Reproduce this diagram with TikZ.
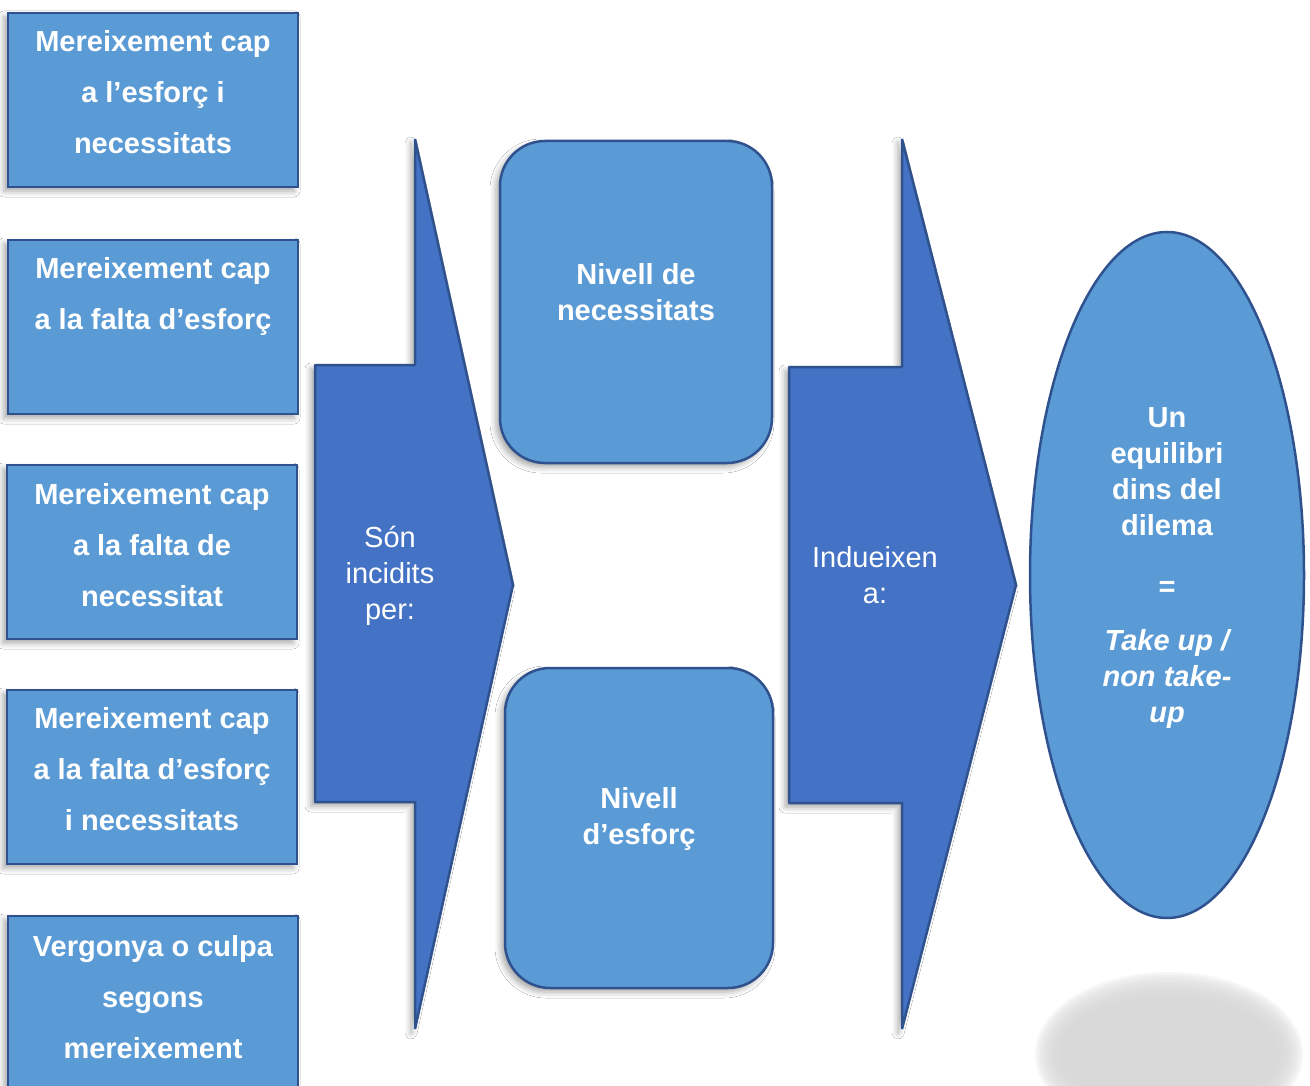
\documentclass[tikz,border=0pt]{standalone}
\usepackage{fontspec}
\setmainfont{Liberation Sans}
\usetikzlibrary{shapes.geometric,shadows.blur}
\definecolor{boxfill}{HTML}{5B9BD5}
\definecolor{boxline}{HTML}{2F528F}
\definecolor{arrowfill}{HTML}{4472C4}
\begin{document}
\begin{tikzpicture}[x=1pt,y=-1pt,
  shad/.style={blur shadow={shadow xshift=-4pt,shadow yshift=-4pt,shadow blur radius=6pt,shadow opacity=35}},
  lbox/.style={draw=boxline,fill=boxfill,line width=2.5pt,minimum width=290pt,minimum height=174pt,inner sep=0pt,shad},
  ltext/.style={text=white,font=\fontsize{29}{51}\selectfont\bfseries,align=center,inner sep=0pt},
  rbox/.style={draw=boxline,fill=boxfill,line width=2.5pt,rounded corners=45pt,inner sep=0pt,shad},
  mtext/.style={text=white,font=\fontsize{29}{36}\selectfont\bfseries,align=center,inner sep=0pt},
  atext/.style={text=white,font=\fontsize{29}{36}\selectfont,align=center,inner sep=0pt},
  bigarrow/.style={draw=boxline,fill=arrowfill,line width=2.5pt,line join=bevel,shad},
  oval/.style={ellipse,draw=boxline,fill=boxfill,line width=2.5pt,minimum width=274pt,minimum height=686pt,inner sep=0pt},
  blob/.style={fill=black!15,draw=none,opacity=0.22}
]
\useasboundingbox (0,0) rectangle (1310,1086);
\fill[white] (0,0) rectangle (1310,1086);

% blurred blob bottom right
\foreach \i in {0,...,11}{
  \path[blob] (1169,1054) ellipse[x radius={134-2.5*\i}, y radius={82-2.5*\i}];
}

% left boxes
\node[lbox] (b1) at (153,100) {};
\node[lbox] (b2) at (153,327) {};
\node[lbox] (b3) at (152,552) {};
\node[lbox] (b4) at (152,777) {};
\node[lbox] (b5) at (153,1003) {};
\node[ltext] (t1) at (153,92) {Mereixement cap\\a l’esforç i\\necessitats};
\node[ltext] (t2) at (153,297) {Mereixement cap\\a la falta d’esforç};
\node[ltext] (t3) at (152,545) {Mereixement cap\\a la falta de\\necessitat};
\node[ltext] (t4) at (152,769) {Mereixement cap\\a la falta d’esforç\\i necessitats};
\node[ltext] (t5) at (153,997) {Vergonya o culpa\\segons\\mereixement};

% first arrow
\path[bigarrow] (315,365) -- (415,365) -- (415,139) -- (513,585) -- (415,1029) -- (415,802) -- (315,802) -- cycle;
\node[atext] (a1) at (390,576) {Són\\incidits\\per:};

% middle rounded boxes
\node[rbox,minimum width=272pt,minimum height=322pt] (n1) at (636,302) {};
\node[mtext] (n1t) at (636,292) {Nivell de\\necessitats};
\node[rbox,minimum width=268pt,minimum height=320pt] (n2) at (639,828) {};
\node[mtext] (n2t) at (639,819) {Nivell\\d’esforç};

% second arrow
\path[bigarrow] (789,367) -- (902,367) -- (902,139) -- (1016,585) -- (902,1029) -- (902,803) -- (789,803) -- cycle;
\node[atext] (a2) at (875,575) {Indueixen\\a:};

% ellipse
\node[oval] (e) at (1167,575) {};
\node[mtext] (et) at (1167,568) {Un\\equilibri\\dins del\\dilema\\[25pt]=\\[18pt]\itshape Take up /\\\itshape non take-\\\itshape up};
\end{tikzpicture}
\end{document}
